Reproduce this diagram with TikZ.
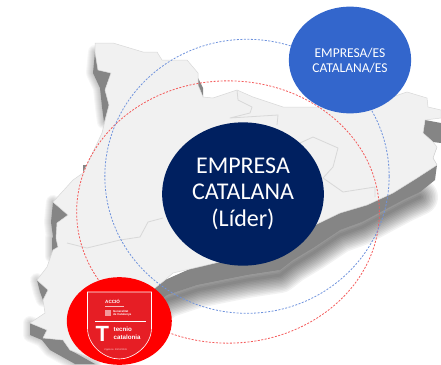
\documentclass[tikz,border=0pt]{standalone}
\usepackage{fontspec}
\setmainfont{Carlito}
\newfontfamily\badgefont{Liberation Sans}
\usetikzlibrary{shapes.geometric}
\definecolor{mapface}{HTML}{F1F1F1}
\definecolor{mapside}{HTML}{858585}
\definecolor{mapline}{HTML}{D8D8D8}
\definecolor{navyc}{HTML}{002060}
\definecolor{bluec}{HTML}{3366CC}
\definecolor{redc}{HTML}{FF0000}
\definecolor{shieldc}{HTML}{E61E25}
\definecolor{dashblue}{HTML}{6F93DD}
\definecolor{dashred}{HTML}{F45B5B}
\tikzset{
  x=1pt,y=-1pt,
  disc/.style={ellipse,inner sep=0pt,align=center,text=white},
  ring/.style={ellipse,inner sep=0pt,draw,line width=0.8pt,dash pattern=on 2pt off 1.5pt},
  border/.style={draw=mapline,line width=0.8pt,line join=round},
  softedge/.style={black,line join=round,line cap=round},
  badgetext/.style={text=white,inner sep=0pt,align=left,anchor=west}
}
\def\sidebottom{(420,192) -- (405,199) -- (388,208) -- (362,222) -- (340,230) -- (313,248) -- (293,260) -- (280,270) -- (247,275) -- (197,285) -- (167,295) -- (150,308) -- (115,340)}
\def\lobeA{(95,52) -- (93,73) -- (100,88) -- (102,107) -- (104,122) -- (109,105) -- (105,90) -- (111,73) -- (98,70) -- cycle}
\def\lobeC{(53,202) -- (51,222) -- (53,237) -- (52,238) -- (52,256) -- (55,258) -- (58,247) -- (56,238) -- (57,223) -- (68,215) -- cycle}
\def\lobeD{(37,280) -- (40,292) -- (43,300) -- (48,290) -- cycle}
\def\lobeE{(30,323) -- (30,335) -- (42,340) -- (50,350) -- (75,364) -- (95,364) -- (70,350) -- (63,340) -- (43,338) -- (47,330) -- cycle}
\begin{document}
\begin{tikzpicture}
\useasboundingbox (0,0) rectangle (441,364);
% soft shadows
\foreach \w in {3,6,...,36}{
  \draw[softedge,opacity=0.05,line width=\w pt,yshift=-5pt] \sidebottom;
}
\foreach \w in {2,4,...,14}{
  \draw[softedge,opacity=0.035,line width=\w pt] \lobeA;
  \draw[softedge,opacity=0.035,line width=\w pt] \lobeC;
  \draw[softedge,opacity=0.03,line width=\w pt] \lobeD;
  \draw[softedge,opacity=0.03,line width=\w pt] \lobeE;
}
% side faces
\fill[mapside] (437,147) -- (433,158) -- (437,165) -- (436,172) -- (435,180) -- (420,192) -- (405,199) -- (388,208) -- (362,222) -- (340,230) -- (313,248) -- (293,260) -- (280,270) -- (247,275) -- (197,285) -- (167,295) -- (150,308) -- (115,340) -- (100,330) -- (165,280) -- (300,220) -- (417,170) -- cycle;
\fill[mapside] \lobeA;
\fill[mapside] \lobeC;
\fill[mapside] \lobeD;
\fill[mapside] \lobeE;
\fill[mapside] (83,165) -- (88,165) -- (88,174) -- (83,175) -- cycle;
\fill[mapside] (198,78) -- (203,88) -- (203,97) -- (198,92) -- cycle;
\fill[mapside] (425,120) -- (441,123) -- (441,143) -- (433,142) -- (423,133) -- cycle;
% face
\fill[mapface,draw=mapline,line width=0.5pt,line join=round] (95,43) -- (113,43) -- (143,52) -- (157,52) -- (162,60) -- (187,60) -- (198,73) -- (198,85) -- (203,97) -- (213,98) -- (237,90) -- (253,97) -- (283,107) -- (317,107) -- (346,112) -- (383,100) -- (407,92) -- (427,98) -- (428,107) -- (441,110) -- (441,118) -- (425,120) -- (423,133) -- (433,142) -- (437,147) -- (433,158) -- (437,165) -- (417,178) -- (393,193) -- (367,205) -- (340,213) -- (315,225) -- (290,245) -- (207,265) -- (173,273) -- (165,280) -- (140,300) -- (100,340) -- (90,358) -- (70,350) -- (63,340) -- (43,338) -- (47,330) -- (30,323) -- (45,313) -- (43,300) -- (48,290) -- (37,280) -- (47,267) -- (53,250) -- (58,247) -- (56,238) -- (57,223) -- (68,215) -- (53,202) -- (73,180) -- (83,173) -- (102,133) -- (109,105) -- (105,90) -- (111,73) -- (98,70) -- (95,52) -- cycle;
% inner borders
\draw[border] (237,90) -- (238,100) -- (252,107) -- (250,113) -- (230,118) -- (278,115) -- (277,125);
\draw[border] (300,143) -- (313,137) -- (338,148) -- (333,167) -- (323,178) -- (343,192) -- (375,187) -- (375,197);
\draw[border] (67,243) -- (87,248) -- (120,240) -- (140,237) -- (148,222) -- (163,218);
% rings
\node[ring,draw=dashred,minimum width=302.7pt,minimum height=262.3pt] (redring) at (228,212) {};
\node[ring,draw=dashblue,minimum width=284.3pt,minimum height=274pt] (bluering) at (247,176.3) {};
% discs
\node[disc,fill=navyc,minimum width=161.7pt,minimum height=143.3pt] (lider) at (243,194) {};
\node[text=white,align=center,inner sep=0pt,font=\fontsize{24}{26.5}\selectfont] (lidertext) at (243,193.5) {EMPRESA\\CATALANA\\(Líder)};
\node[disc,fill=bluec,minimum width=122.3pt,minimum height=106.7pt] (grup) at (350,60) {};
\node[text=white,align=center,inner sep=0pt,font=\fontsize{13.5}{15}\selectfont] (gruptext) at (350,60.5) {EMPRESA/ES\\CATALANA/ES};
\node[disc,fill=redc,minimum width=105pt,minimum height=87.7pt] (tecnio) at (119.3,321) {};
% badge
\draw[fill=shieldc,draw=white,line width=0.6pt] (87.5,292) -- (151.5,292) -- (151.5,328) .. controls (151.5,346) and (133,359) .. (119.3,359) .. controls (105,359) and (87.5,346) .. (87.5,328) -- cycle;
\draw[white,line width=0.3pt] (95,321.3) -- (145.5,321.3);
\node[badgetext,font=\badgefont\bfseries\fontsize{4.6}{5}\selectfont] (accio) at (105,301) {ACCIÓ};
\fill[white,opacity=0.55] (105,309.5) rectangle (111,316);
\draw[white,line width=0.3pt,opacity=0.7] (105,306) -- (124,306);
\node[badgetext,font=\badgefont\bfseries\fontsize{2.9}{3.2}\selectfont] (gene) at (113,313) {Generalitat\\de Catalunya};
\node[badgetext,font=\badgefont\bfseries\fontsize{22}{22}\selectfont] (tee) at (95.5,333.5) {T};
\node[badgetext,font=\badgefont\bfseries\fontsize{6.2}{8}\selectfont] (cat) at (113.5,333.3) {tecnio\\catalonia};
\node[badgetext,opacity=0.8,font=\badgefont\fontsize{2.4}{3}\selectfont] (vig) at (104,350) {Vigència: 29/12/2026};
\end{tikzpicture}
\end{document}
